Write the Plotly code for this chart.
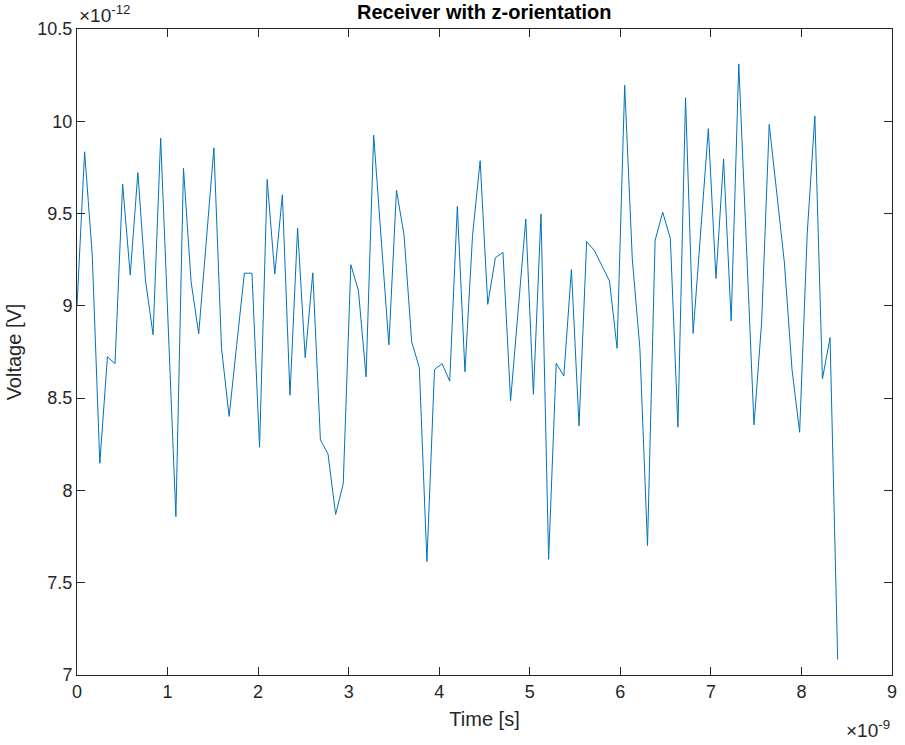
import numpy as np
import plotly.graph_objects as go

# Receiver voltage samples (units of 1e-12 V), sampled every 0.084 ns
sample_step_ns = 0.084
voltage_pv = [
    9.00, 9.835, 9.28, 8.147, 8.724, 8.687, 9.659, 9.167, 9.722, 9.14,
    8.844, 9.909, 8.88, 7.858, 9.745, 9.13, 8.849, 9.35, 9.856, 8.77,
    8.401, 8.79, 9.177, 9.177, 8.234, 9.685, 9.172, 9.602, 8.516, 9.421,
    8.719, 9.179, 8.274, 8.197, 7.87, 8.036, 9.223, 9.082, 8.615, 9.925,
    9.357, 8.789, 9.627, 9.382, 8.805, 8.666, 7.615, 8.655, 8.687, 8.592,
    9.539, 8.643, 9.382, 9.786, 9.008, 9.26, 9.29, 8.486, 8.978, 9.47,
    8.521, 9.498, 7.627, 8.689, 8.62, 9.197, 8.35, 9.348, 9.301, 9.221,
    9.135, 8.77, 10.195, 9.255, 8.77, 7.701, 9.355, 9.507, 9.366, 8.343,
    10.128, 8.851, 9.405, 9.96, 9.149, 9.796, 8.918, 10.311, 9.333, 8.355,
    8.909, 9.983, 9.61, 9.232, 8.655, 8.315, 9.394, 10.029, 8.604, 8.828,
    7.084,
]
time_ns = np.arange(len(voltage_pv)) * sample_step_ns

x_ticks = [0, 1, 2, 3, 4, 5, 6, 7, 8, 9]
y_ticks = [7, 7.5, 8, 8.5, 9, 9.5, 10, 10.5]
y_tick_text = ["7", "7.5", "8", "8.5", "9", "9.5", "10", "10.5"]

FONT = "Liberation Sans, Arial, Helvetica, sans-serif"
AXIS_COLOR = "#262626"

fig = go.Figure()
fig.add_trace(go.Scatter(
    x=time_ns, y=voltage_pv, mode="lines",
    line=dict(color="#0072BD", width=1),
    showlegend=False, hoverinfo="skip",
))

axis_common = dict(
    showgrid=False, zeroline=False, showline=True, linecolor=AXIS_COLOR,
    linewidth=1, mirror="ticks", ticks="inside", ticklen=8, tickwidth=1,
    tickcolor=AXIS_COLOR, tickfont=dict(family=FONT, size=18, color=AXIS_COLOR),
)

fig.update_xaxes(
    range=[0, 9], tickvals=x_ticks, ticktext=[str(v) for v in x_ticks],
    title=dict(text="Time [s]", font=dict(family=FONT, size=20, color=AXIS_COLOR),
               standoff=11),
    **axis_common,
)
fig.update_yaxes(
    range=[7, 10.5], tickvals=y_ticks, ticktext=y_tick_text,
    title=dict(text="Voltage [V]", font=dict(family=FONT, size=20, color=AXIS_COLOR),
               standoff=10),
    **axis_common,
)

fig.update_layout(
    width=905, height=745,
    margin=dict(l=77, r=8, t=29, b=70),
    paper_bgcolor="white", plot_bgcolor="white",
    font=dict(family=FONT, color=AXIS_COLOR),
    annotations=[
        dict(text="<b>Receiver with z-orientation</b>", xref="paper", yref="paper",
             x=0.5, y=1, xanchor="center", yanchor="bottom", yshift=4,
             showarrow=False, font=dict(family=FONT, size=20, color="black")),
        dict(text="×10<sup>-12</sup>", xref="paper", yref="paper",
             x=0, y=1, xanchor="left", yanchor="bottom", xshift=0, yshift=1,
             showarrow=False, font=dict(family=FONT, size=19, color=AXIS_COLOR)),
        dict(text="×10<sup>-9</sup>", xref="paper", yref="paper",
             x=1, y=0, xanchor="right", yanchor="top", yshift=-40,
             showarrow=False, font=dict(family=FONT, size=19, color=AXIS_COLOR)),
    ],
)

fig.write_html("out.html")
